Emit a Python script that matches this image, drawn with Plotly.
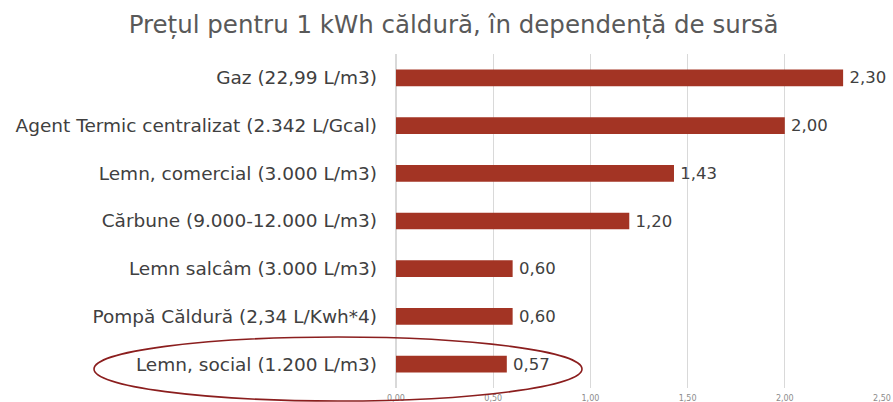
import plotly.graph_objects as go

categories = [
    "Gaz (22,99 L/m3)",
    "Agent Termic centralizat (2.342 L/Gcal)",
    "Lemn, comercial (3.000 L/m3)",
    "Cărbune (9.000-12.000 L/m3)",
    "Lemn salcâm (3.000 L/m3)",
    "Pompă Căldură (2,34 L/Kwh*4)",
    "Lemn, social (1.200 L/m3)",
]
values = [2.30, 2.00, 1.43, 1.20, 0.60, 0.60, 0.57]
tick_vals = [0, 0.5, 1.0, 1.5, 2.0, 2.5]
title_text = "Prețul pentru 1 kWh căldură, în dependență de sursă"

W, H = 893, 402
ml, mr, mt, mb = 396, 11, 54, 14
pw, ph = W - ml - mr, H - mt - mb

def px_x(p):
    return (p - ml) / pw

def px_y(p):
    return (H - mb - p) / ph

FONT = "DejaVu Sans"

fig = go.Figure(go.Bar(
    y=categories,
    x=values,
    orientation="h",
    marker=dict(color="#A33424", line=dict(width=0)),
    width=0.35,
    texttemplate="\u2009%{x:.2f}",
    textposition="outside",
    constraintext="none",
    textfont=dict(family=FONT, size=16.5, color="#404040"),
    cliponaxis=False,
))

fig.update_layout(
    width=W, height=H,
    margin=dict(l=ml, r=mr, t=mt, b=mb, autoexpand=False),
    paper_bgcolor="white",
    plot_bgcolor="white",
    separators=",.",
    showlegend=False,
    title=dict(
        text=title_text,
        x=0.508, xanchor="center", y=0.94, yanchor="middle",
        font=dict(family=FONT, size=24.5, color="#595959"),
    ),
    xaxis=dict(
        range=[0, 2.5],
        tickvals=tick_vals,
        tickformat=".2f",
        showgrid=True,
        gridcolor="#D9D9D9",
        gridwidth=1,
        zeroline=True,
        zerolinecolor="#D9D9D9",
        tickfont=dict(family=FONT, size=8, color="#8C8C8C"),
        ticks="",
        ticklabelstandoff=4,
        automargin=False,
        fixedrange=True,
    ),
    yaxis=dict(
        categoryorder="array",
        categoryarray=categories[::-1],
        tickfont=dict(family=FONT, size=18.5, color="#404040"),
        ticks="",
        ticklabelstandoff=18,
        automargin=False,
        showgrid=False,
        fixedrange=True,
    ),
    shapes=[dict(
        type="circle",
        xref="paper", yref="paper",
        x0=px_x(94), x1=px_x(582),
        y0=px_y(401), y1=px_y(337),
        line=dict(color="#8B1E1E", width=1.6),
        fillcolor="rgba(0,0,0,0)",
        layer="above",
    )],
)

fig.write_html(
    "out.html",
    config={"displayModeBar": False},
    post_script="document.body.style.margin='0';",
)
